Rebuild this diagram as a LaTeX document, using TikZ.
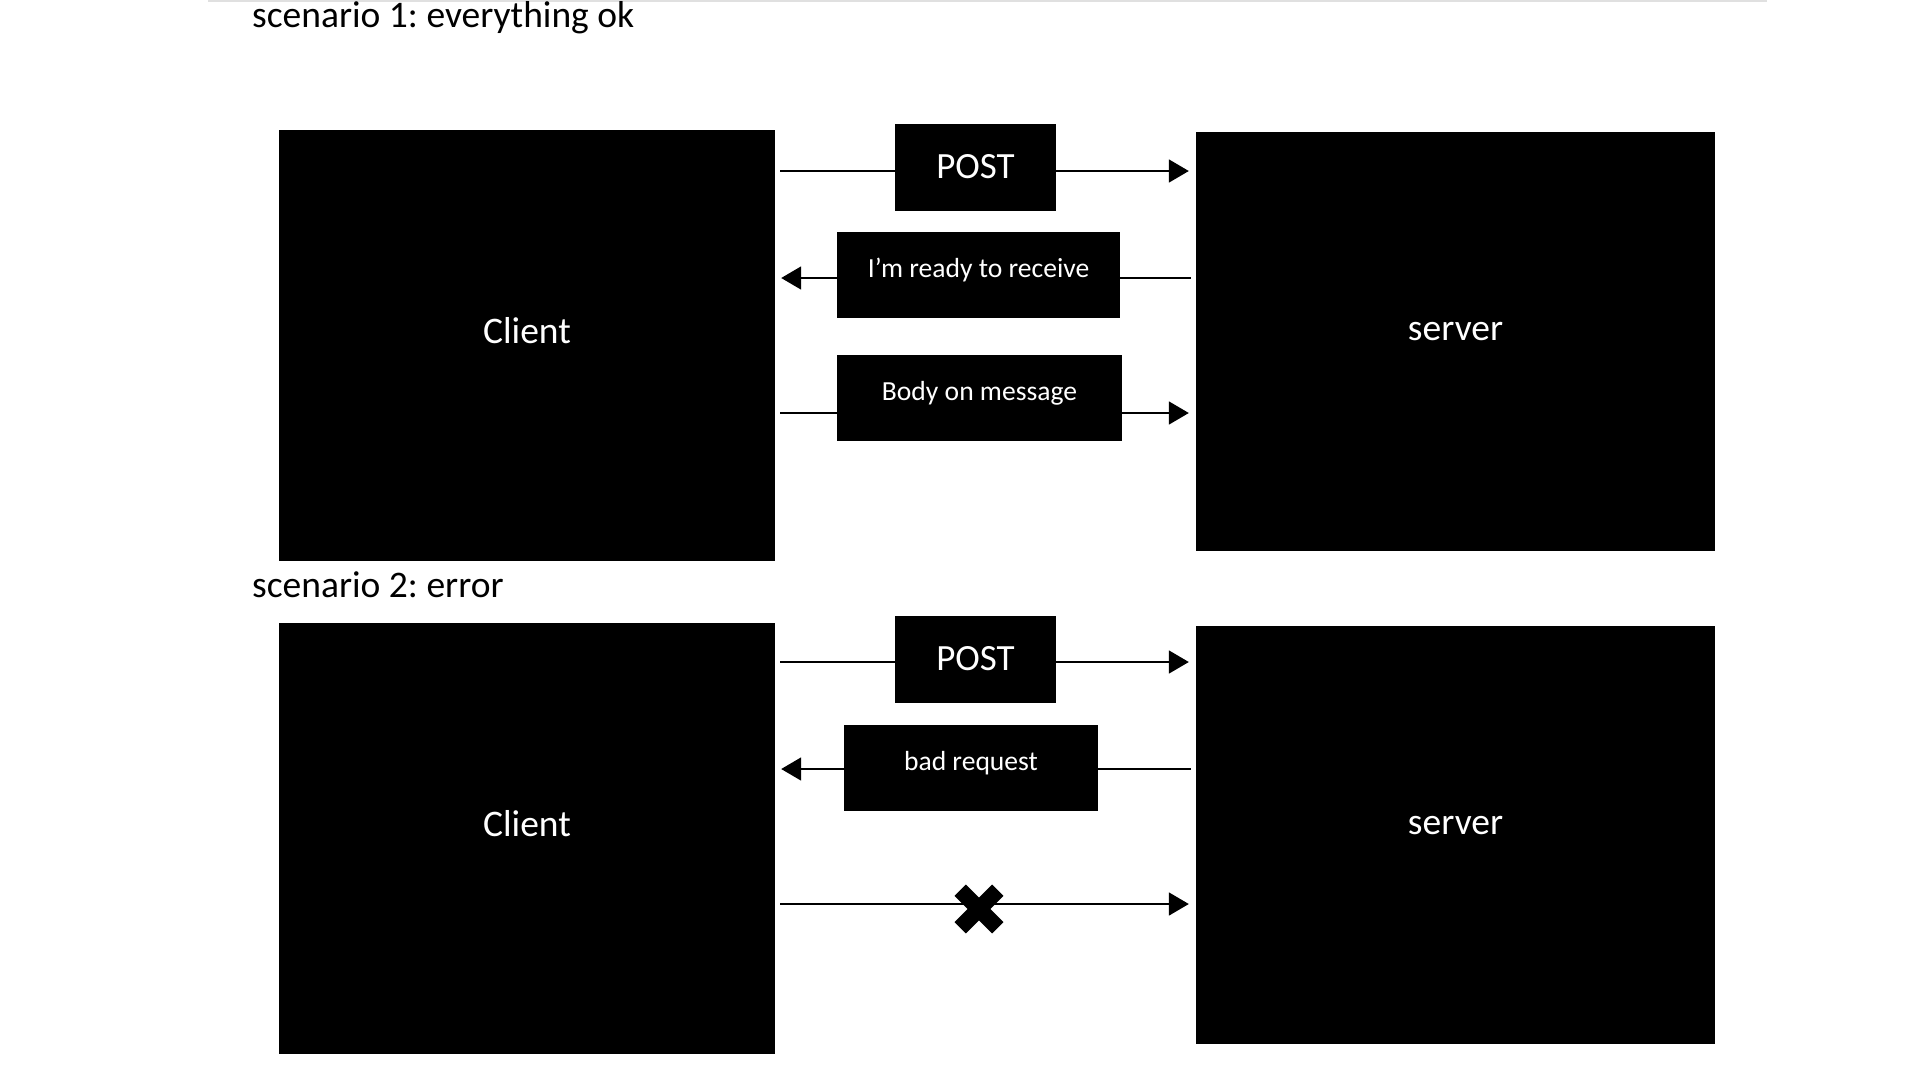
\documentclass[tikz,border=0pt]{standalone}
\usepackage{fontspec}
\setmainfont{Carlito}
\usetikzlibrary{arrows.meta,backgrounds}
\frenchspacing
\begin{document}
\begin{tikzpicture}[x=1pt,y=-1pt,
  bigbox/.style={fill=black, text=white, inner sep=0pt, minimum width=496pt,
    font=\fontsize{37.5}{40}\selectfont},
  postbox/.style={fill=black, text=white, inner sep=0pt, minimum width=161pt,
    minimum height=87pt, font=\fontsize{37}{40}\selectfont},
  msgbox/.style={fill=black, text=white, inner sep=0pt, minimum height=86pt,
    text height=12pt, text depth=8pt, font=\fontsize{27.6}{30}\selectfont},
  titletext/.style={anchor=base west, inner sep=0pt, font=\fontsize{37.5}{40}\selectfont},
  flow/.style={line width=1.8pt, -{Triangle[length=20pt,width=23pt]}},
  crossbar/.style={line width=16pt}
]
\useasboundingbox (0,0) rectangle (1920,1080);

% titles
\node[titletext] (t1) at (252,27) {scenario 1: everything ok};
\node[titletext] (t2) at (252,597) {scenario 2: error};

% scenario 1
\node[bigbox, minimum height=431pt, text height=10pt, text depth=15pt] (c1) at (527,345.5) {Client};
\node[bigbox, minimum width=519pt, minimum height=419pt, text height=10pt, text depth=13pt] (s1) at (1455.5,341.5) {server};
\node[postbox, text height=25pt, text depth=4pt] (p1) at (975.5,167.5) {POST};
\node[msgbox, minimum width=283pt] (r1) at (978.5,275) {I’m ready to receive};
\node[msgbox, minimum width=285pt] (b1) at (979.5,398) {Body on message};

% scenario 2
\node[bigbox, minimum height=431pt, text height=10pt, text depth=15pt] (c2) at (527,838.5) {Client};
\node[bigbox, minimum width=519pt, minimum height=418pt, text height=10pt, text depth=12pt] (s2) at (1455.5,835) {server};
\node[postbox, text height=26pt, text depth=4pt] (p2) at (975.5,659) {POST};
\node[msgbox, minimum width=254pt] (e2) at (971,768) {bad request};
\coordinate (xm) at (979,909);

\begin{scope}[on background layer]
  \fill[white] (0,0) rectangle (1920,1080);
  \draw[line width=2pt, black!12] (208,1) -- (1767,1);
  % scenario 1 connectors
  \draw[flow, shorten <=5pt, shorten >=7pt] (c1.east |- 0,171) -- (s1.west |- 0,171);
  \draw[flow, shorten <=5pt, shorten >=6pt] (s1.west |- 0,278) -- (c1.east |- 0,278);
  \draw[flow, shorten <=5pt, shorten >=7pt] (c1.east |- 0,413) -- (s1.west |- 0,413);
  % scenario 2 connectors
  \draw[flow, shorten <=5pt, shorten >=7pt] (c2.east |- 0,662) -- (s2.west |- 0,662);
  \draw[flow, shorten <=5pt, shorten >=6pt] (s2.west |- 0,769) -- (c2.east |- 0,769);
  \draw[flow, shorten <=5pt, shorten >=7pt] (c2.east |- 0,904) -- (s2.west |- 0,904);
\end{scope}

% cross mark on the failed message
\draw[crossbar] ([shift={(-18.8,-18.8)}]xm) -- ([shift={(18.8,18.8)}]xm);
\draw[crossbar] ([shift={(-18.8,18.8)}]xm) -- ([shift={(18.8,-18.8)}]xm);
\end{tikzpicture}
\end{document}
